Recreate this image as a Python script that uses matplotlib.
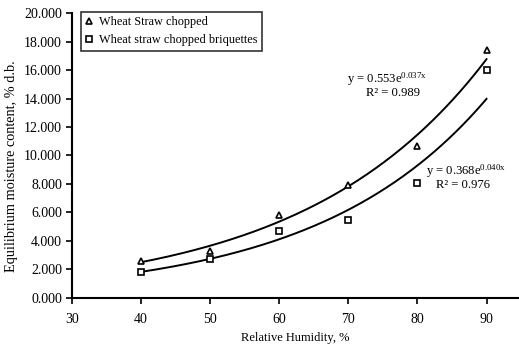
import numpy as np
import matplotlib
matplotlib.use("Agg")
import matplotlib.pyplot as plt

plt.rcParams['font.family'] = ['Liberation Serif', 'DejaVu Serif']
plt.rcParams['mathtext.fontset'] = 'custom'
plt.rcParams['mathtext.rm'] = 'Liberation Serif'
plt.rcParams['mathtext.it'] = 'Liberation Serif:italic'

humidity = [40, 50, 60, 70, 80, 90]
straw = [2.6, 3.3, 5.8, 7.9, 10.7, 17.4]
briquettes = [1.8, 2.75, 4.7, 5.45, 8.05, 16.0]
labels = ["Wheat Straw chopped", "Wheat straw chopped briquettes"]
eq_texts = [(r"y = 0.553e$^{\mathregular{0.037x}}$", "R² = 0.989"),
            (r"y = 0.368e$^{\mathregular{0.040x}}$", "R² = 0.976")]

fig = plt.figure(figsize=(5.19, 3.46), dpi=100)
ax = fig.add_axes([71.7/519, (346-297.7)/346, 1-71.7/519, (297.7-13.3)/346])

x = np.array(humidity, dtype=float)
xs = np.linspace(40, 90, 200)
for ys, mk, lab in [(straw, '^', labels[0]), (briquettes, 's', labels[1])]:
    b, lna = np.polyfit(x, np.log(ys), 1)
    ax.plot(xs, np.exp(lna) * np.exp(b * xs), color='black', lw=1.4, zorder=2)
    ax.plot(x, ys, linestyle='none', marker=mk, markersize=4 if mk == '^' else 3.8,
            markerfacecolor='white', markeredgecolor='black', markeredgewidth=1.2,
            label=lab, zorder=3)

fs = 9.1
ax.text(75.6, 15.35, eq_texts[0][0], ha='center', va='center', fontsize=fs)
ax.text(76.5, 14.4, eq_texts[0][1], ha='center', va='center', fontsize=fs)
ax.text(87.0, 8.9, eq_texts[1][0], ha='center', va='center', fontsize=fs)
ax.text(86.6, 7.9, eq_texts[1][1], ha='center', va='center', fontsize=fs)

ax.set_xlim(30, 94.7)
ax.set_ylim(0, 20)
ax.set_xticks([30, 40, 50, 60, 70, 80, 90])
ax.set_yticks(np.arange(0, 20.1, 2))
ax.set_yticklabels([f"{v:.3f}" for v in np.arange(0, 20.1, 2)])
ax.tick_params(labelsize=10, direction='out', length=4, width=1.2, colors='black')
ax.tick_params(axis='x', pad=7)
ax.tick_params(axis='y', pad=3)
for s in ['top', 'right']:
    ax.spines[s].set_visible(False)
for s in ['left', 'bottom']:
    ax.spines[s].set_linewidth(1.5)

ax.set_xlabel("Relative Humidity, %", fontsize=9.0, labelpad=4)
ax.set_ylabel("Equilibrium moisture content, % d.b.", fontsize=10.3)
ax.yaxis.set_label_coords(-0.12, 0.463)

leg = ax.legend(loc='upper left', bbox_to_anchor=(0.0215, 1.005), fontsize=8.8,
                frameon=True, fancybox=False, edgecolor='black', handlelength=0.6,
                handletextpad=0.5, borderpad=0.35, labelspacing=0.5, borderaxespad=0.0)
leg.get_frame().set_linewidth(1.2)

fig.savefig("out.png", dpi=100)
